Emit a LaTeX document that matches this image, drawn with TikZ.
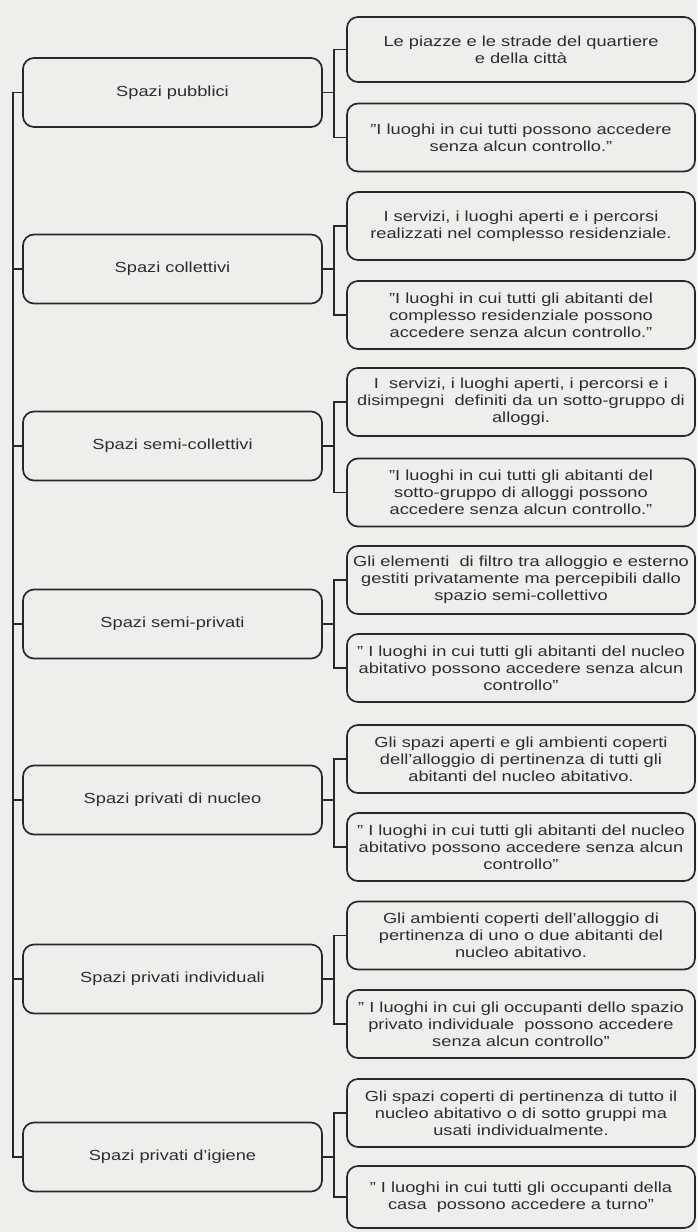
\documentclass[tikz,border=0pt]{standalone}
\usepackage{fontspec}
\setmainfont{Liberation Sans}[FakeStretch=1.25]
\usetikzlibrary{calc}
\definecolor{bg}{RGB}{238,238,236}
\definecolor{ln}{RGB}{40,40,40}
\definecolor{tx}{RGB}{45,45,45}
\newcommand{\q}{\symbol{34}}
\tikzset{
  base/.style={draw=ln, line width=1.7pt, rounded corners=11pt, fill=bg, align=center,
    text=tx, inner sep=1pt, font=\fontsize{14.6}{16.8}\selectfont},
  catbox/.style={base, minimum width=299pt, minimum height=69pt},
  descbox/.style={base, minimum width=348pt, minimum height=68pt},
  conn/.style={draw=ln, line width=1.5pt},
}
\begin{document}
\begin{tikzpicture}[x=1pt,y=-1pt]
\fill[bg] (0,0) rectangle (697,1232);
\useasboundingbox (0,0) rectangle (697,1232);
\coordinate (tx) at (13,0);
\coordinate (bx) at (334,0);
% left boxes
\node[catbox] (L1) at (172.5,92.5) {Spazi pubblici};
\node[catbox] (L2) at (172.5,269) {Spazi collettivi};
\node[catbox] (L3) at (172.5,446) {Spazi semi-collettivi};
\node[catbox] (L4) at (172.5,624) {Spazi semi-privati};
\node[catbox] (L5) at (172.5,800) {Spazi privati di nucleo};
\node[catbox] (L6) at (172.5,979) {Spazi privati individuali};
\node[catbox] (L7) at (172.5,1157) {Spazi privati d'igiene};
% right boxes
\node[descbox, minimum height=65pt] (R1) at (521,49.5) {Le piazze e le strade del quartiere\\e della città};
\node[descbox] (R2) at (521,137.5) {\q I luoghi in cui tutti possono accedere\\senza alcun controllo.\q};
\node[descbox] (R3) at (521,226) {I servizi, i luoghi aperti e i percorsi\\realizzati nel complesso residenziale.};
\node[descbox] (R4) at (521,315) {\q I luoghi in cui tutti gli abitanti del\\complesso residenziale possono\\accedere senza alcun controllo.\q};
\node[descbox] (R5) at (521,402) {I\ \ servizi, i luoghi aperti, i percorsi e i\\disimpegni\ \ definiti da un sotto-gruppo di\\alloggi.};
\node[descbox] (R6) at (521,492.5) {\q I luoghi in cui tutti gli abitanti del\\sotto-gruppo di alloggi possono\\accedere senza alcun controllo.\q};
\node[descbox] (R7) at (521,580) {Gli elementi\ \ di filtro tra alloggio e esterno\\gestiti privatamente ma percepibili dallo\\spazio semi-collettivo};
\node[descbox] (R8) at (521,668) {\q\ I luoghi in cui tutti gli abitanti del nucleo\\abitativo possono accedere senza alcun\\controllo\q};
\node[descbox] (R9) at (521,759) {Gli spazi aperti e gli ambienti coperti\\dell'alloggio di pertinenza di tutti gli\\abitanti del nucleo abitativo.};
\node[descbox] (R10) at (521,847) {\q\ I luoghi in cui tutti gli abitanti del nucleo\\abitativo possono accedere senza alcun\\controllo\q};
\node[descbox] (R11) at (521,935.5) {Gli ambienti coperti dell'alloggio di\\pertinenza di uno o due abitanti del\\nucleo abitativo.};
\node[descbox] (R12) at (521,1024) {\q\ I luoghi in cui gli occupanti dello spazio\\privato individuale\ \ possono accedere\\senza alcun controllo\q};
\node[descbox] (R13) at (521,1113) {Gli spazi coperti di pertinenza di tutto il\\nucleo abitativo o di sotto gruppi ma\\usati individualmente.};
\node[descbox, minimum height=62pt] (R14) at (521,1197) {\q\ I luoghi in cui tutti gli occupanti della\\casa\ \ possono accedere a turno\q};
% trunk
\draw[conn] (L1.west) -- (L1.west -| tx) -- (L7.west -| tx) -- (L7.west);
\foreach \i in {2,...,6} {\draw[conn] (L\i.west) -- (L\i.west -| tx);}
% brackets
\foreach \l/\a/\b in {1/1/2, 2/3/4, 3/5/6, 4/7/8, 5/9/10, 6/11/12, 7/13/14} {
  \draw[conn] (R\a.west) -- (R\a.west -| bx) -- (R\b.west -| bx) -- (R\b.west);
  \draw[conn] (L\l.east) -- (L\l.east -| bx);
}
\end{tikzpicture}
\end{document}
